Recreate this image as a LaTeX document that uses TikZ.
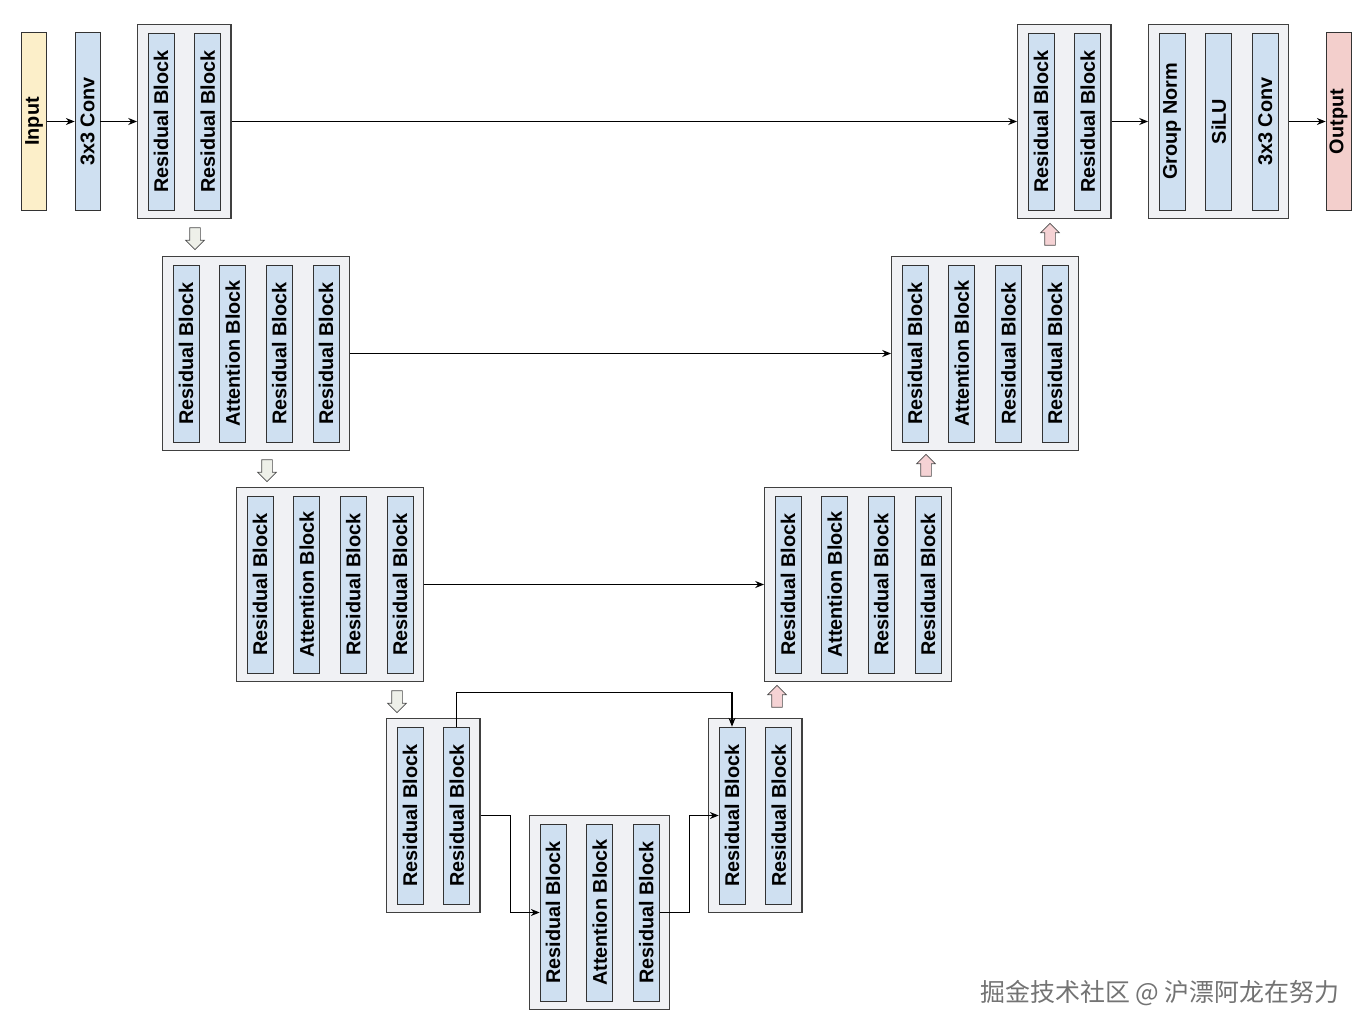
\documentclass[tikz,border=0pt]{standalone}
\usepackage{graphicx}
\usepackage{fontspec}
\setmainfont{Liberation Sans}
\newfontfamily\cjk{Noto Sans CJK SC}
\usetikzlibrary{positioning, fit, backgrounds, shapes.arrows, arrows.meta}

\definecolor{blockblue}{HTML}{CFE0F1}
\definecolor{inyellow}{HTML}{FCEFC9}
\definecolor{outpink}{HTML}{F3CFCC}
\definecolor{groupgrey}{HTML}{F0F1F4}
\definecolor{downfill}{HTML}{EEF0E9}
\definecolor{upfill}{HTML}{F5D2D4}

\tikzstyle{block} = [rectangle, draw=black!80, fill=blockblue, minimum width=0.52cm, minimum height=3.54cm, inner sep=0pt, font=\fontsize{11.3}{13}\selectfont\bfseries]
\tikzstyle{group} = [rectangle, draw=black!75, line width=0.7pt, fill=groupgrey, inner xsep=0.2cm, inner ysep=0.16cm]
\tikzstyle{down} = [single arrow, draw=black!70, fill=downfill, minimum height=0.44cm, inner sep=0.1cm, single arrow head extend=0.08cm, shape border rotate=270]
\tikzstyle{up} = [down, fill=upfill, shape border rotate=90]
\tikzstyle{arrow} = [line width=0.6pt, -{Stealth[length=5pt,width=4pt]}]

\newcommand{\vt}[1]{\rotatebox{90}{#1}}

\begin{document}
\begin{tikzpicture}[x=0.02cm, y=-0.02cm, node distance=0.4cm]
\useasboundingbox (0,0) rectangle (1368,1034);

% Input side
\node (input) [block, fill=inyellow, minimum width=0.5cm, minimum height=3.56cm] at (34,121.5) {\vt{Input}};
\node (convin) [block, minimum width=0.5cm, minimum height=3.56cm] at (87.5,121.5) {\vt{3x3 Conv}};

% Encoder
\node (enc1a) [block] at (161,121.5) {\vt{Residual Block}};
\node (enc1b) [block, right=of enc1a] {\vt{Residual Block}};

\node (enc2a) [block] at (186,353.5) {\vt{Residual Block}};
\node (enc2b) [block, right=of enc2a] {\vt{Attention Block}};
\node (enc2c) [block, right=of enc2b] {\vt{Residual Block}};
\node (enc2d) [block, right=of enc2c] {\vt{Residual Block}};

\node (enc3a) [block] at (260,584.5) {\vt{Residual Block}};
\node (enc3b) [block, right=of enc3a] {\vt{Attention Block}};
\node (enc3c) [block, right=of enc3b] {\vt{Residual Block}};
\node (enc3d) [block, right=of enc3c] {\vt{Residual Block}};

\node (enc4a) [block] at (410,815.5) {\vt{Residual Block}};
\node (enc4b) [block, right=of enc4a] {\vt{Residual Block}};

% Middle
\node (mida) [block] at (553,912.5) {\vt{Residual Block}};
\node (midb) [block, right=of mida] {\vt{Attention Block}};
\node (midc) [block, right=of midb] {\vt{Residual Block}};

% Decoder
\node (dec4a) [block] at (732,815.5) {\vt{Residual Block}};
\node (dec4b) [block, right=of dec4a] {\vt{Residual Block}};

\node (dec3a) [block] at (788,584.5) {\vt{Residual Block}};
\node (dec3b) [block, right=of dec3a] {\vt{Attention Block}};
\node (dec3c) [block, right=of dec3b] {\vt{Residual Block}};
\node (dec3d) [block, right=of dec3c] {\vt{Residual Block}};

\node (dec2a) [block] at (915,353.5) {\vt{Residual Block}};
\node (dec2b) [block, right=of dec2a] {\vt{Attention Block}};
\node (dec2c) [block, right=of dec2b] {\vt{Residual Block}};
\node (dec2d) [block, right=of dec2c] {\vt{Residual Block}};

\node (dec1a) [block] at (1041,121.5) {\vt{Residual Block}};
\node (dec1b) [block, right=of dec1a] {\vt{Residual Block}};

% Output side
\node (outa) [block] at (1172,121.5) {\vt{Group Norm}};
\node (outb) [block, right=of outa] {\vt{SiLU}};
\node (outc) [block, right=of outb] {\vt{3x3 Conv}};
\node (output) [block, fill=outpink, minimum width=0.5cm, minimum height=3.56cm] at (1338.5,121.5) {\vt{Output}};

% Group boxes
\begin{scope}[on background layer]
\node (enc1) [group, fit=(enc1a)(enc1b)] {};
\node (enc2) [group, fit=(enc2a)(enc2d)] {};
\node (enc3) [group, fit=(enc3a)(enc3d)] {};
\node (enc4) [group, fit=(enc4a)(enc4b)] {};
\node (mid) [group, fit=(mida)(midc)] {};
\node (dec4) [group, fit=(dec4a)(dec4b)] {};
\node (dec3) [group, fit=(dec3a)(dec3d)] {};
\node (dec2) [group, fit=(dec2a)(dec2d)] {};
\node (dec1) [group, fit=(dec1a)(dec1b)] {};
\node (outg) [group, fit=(outa)(outc)] {};
\end{scope}

% Down / up sampling
\node (down1) [down] at (195,236) {};
\node (down2) [down] at (267,468) {};
\node (down3) [down] at (397,699) {};
\node (up1) [up] at (777,699) {};
\node (up2) [up] at (926,468) {};
\node (up3) [up] at (1050,237) {};

% Arrows
\draw [arrow] (input) -- (convin);
\draw [arrow] (convin) -- (enc1);
\draw [arrow] (enc1) -- (dec1);
\draw [arrow] (enc2) -- (dec2);
\draw [arrow] (enc3) -- (dec3);
\draw [arrow] (enc4b.north) -- ++(0,-34) -| (dec4a.north);
\draw [arrow] (enc4.east) -- ++(30,0) |- (mida.west);
\draw [arrow] (midc.east) -- ++(30,0) |- (dec4a.west);
\draw [arrow] (dec1) -- (outg);
\draw [arrow] (outg) -- (output);

% Watermark
\node (mark) [text=black!55, font=\cjk\fontsize{14.2}{16}\selectfont] at (1160,993) {掘金技术社区 @ 沪漂阿龙在努力};

\end{tikzpicture}
\end{document}
